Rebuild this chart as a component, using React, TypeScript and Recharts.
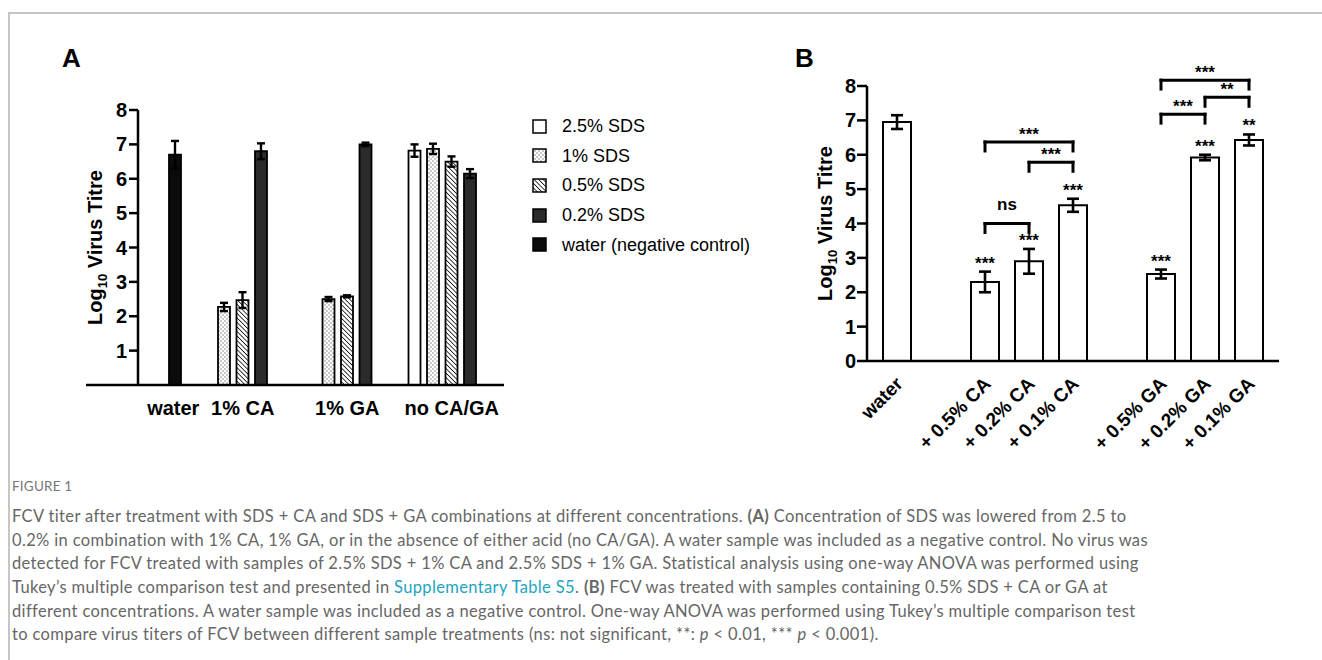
import React from "react";
import {
  BarChart,
  ComposedChart,
  Bar,
  Line,
  XAxis,
  YAxis,
  ErrorBar,
  Legend,
  LabelList,
  ReferenceLine,
} from "recharts";

// ---------- Panel A data ----------
const groupsA = ["water", "1% CA", "1% GA", "no CA/GA"];
const sds25 = [null, null, null, 6.82];
const sds25Err = [null, null, null, 0.18];
const sds1 = [null, 2.27, 2.5, 6.87];
const sds1Err = [null, 0.12, 0.06, 0.15];
const sds05 = [null, 2.47, 2.58, 6.5];
const sds05Err = [null, 0.23, 0.03, 0.15];
const sds02 = [null, 6.8, 7.0, 6.15];
const sds02Err = [null, 0.23, 0.05, 0.13];
const waterA = [6.7, null, null, null];
const waterAErr = [0.4, null, null, null];
const ticksA = [1, 2, 3, 4, 5, 6, 7, 8];
const seriesNamesA = ["2.5% SDS", "1% SDS", "0.5% SDS", "0.2% SDS", "water (negative control)"];

// ---------- Panel B data ----------
const catsB = ["water", " ", "+ 0.5% CA", "+ 0.2% CA", "+ 0.1% CA", "  ", "+ 0.5% GA", "+ 0.2% GA", "+ 0.1% GA"];
const meansB = [6.95, null, 2.3, 2.9, 4.53, null, 2.53, 5.92, 6.43];
const errsB = [0.2, null, 0.3, 0.36, 0.19, null, 0.13, 0.08, 0.16];
const sigB = [null, null, "***", "***", "***", null, "***", "***", "**"];
const ticksB = [0, 1, 2, 3, 4, 5, 6, 7, 8];
const bracketFrom = ["+ 0.5% CA", "+ 0.2% CA", "+ 0.5% CA", "+ 0.5% GA", "+ 0.2% GA", "+ 0.5% GA"];
const bracketTo = ["+ 0.2% CA", "+ 0.1% CA", "+ 0.1% CA", "+ 0.2% GA", "+ 0.1% GA", "+ 0.1% GA"];
const bracketY = [4.0, 5.78, 6.37, 7.18, 7.67, 8.17];
const bracketLabel = ["ns", "***", "***", "***", "**", "***"];

const dataA = groupsA.map((g, i) => ({
  group: g,
  sds25: sds25[i],
  sds25Err: sds25Err[i],
  sds1: sds1[i],
  sds1Err: sds1Err[i],
  sds05: sds05[i],
  sds05Err: sds05Err[i],
  sds02: sds02[i],
  sds02Err: sds02Err[i],
  water: waterA[i],
  waterErr: waterAErr[i],
}));

const dataB = catsB.map((c, i) => ({
  cat: c,
  mean: meansB[i],
  err: errsB[i],
  sig: sigB[i] === null ? undefined : sigB[i],
  sigY: meansB[i] !== null && sigB[i] !== null ? (meansB[i] as number) + (errsB[i] as number) : null,
}));

const seriesA = [
  { key: "sds25", fill: "#ffffff" },
  { key: "sds1", fill: "url(#dotsPat)" },
  { key: "sds05", fill: "url(#hatchPat)" },
  { key: "sds02", fill: "#2b2b2b" },
  { key: "water", fill: "#0b0b0b" },
];

const FONT = "'Liberation Sans', Arial, Helvetica, sans-serif";

const TickA = (props: any) => {
  const { x, y, payload } = props;
  const shift = payload.value === "water" ? 35 : 0;
  return (
    <text x={x + shift} y={y + 30} textAnchor="middle" fontWeight="bold" fontSize={20} fill="#000">
      {payload.value}
    </text>
  );
};

const TickY = (props: any) => {
  const { x, y, payload } = props;
  return (
    <text x={x} y={y + 7} textAnchor="end" fontWeight="bold" fontSize={20} fill="#000">
      {payload.value}
    </text>
  );
};

const TickB = (props: any) => {
  const { x, y, payload } = props;
  const v = String(payload.value).trim();
  if (!v) return null;
  const ax = x + 7;
  const ay = y + 24;
  return (
    <text
      x={ax}
      y={ay}
      textAnchor="end"
      transform={`rotate(-45 ${ax} ${ay})`}
      fontWeight="bold"
      fontSize={19}
      fill="#000"
    >
      {v}
    </text>
  );
};

const yTitle = (fromRight: number) => (props: any) => {
  const vb = props.viewBox || {};
  const cx = vb.x + vb.width - fromRight;
  const cy = vb.y + vb.height / 2;
  return (
    <g transform={`translate(${cx},${cy}) rotate(-90)`}>
      <text x={0} y={7} textAnchor="middle" fontWeight="bold" fontSize={20} fill="#000">
        Log
        <tspan fontSize={13} dy={5}>10</tspan>
        <tspan dy={-5}> Virus Titre</tspan>
      </text>
    </g>
  );
};

const LegendA = () => (
  <div style={{ fontFamily: FONT }}>
    {seriesA.map((s, i) => (
      <div key={s.key} style={{ display: "flex", alignItems: "center", height: 29.6 }}>
        <svg width={16} height={16} style={{ display: "block" }}>
          <rect x={1} y={1} width={13} height={13} fill={s.fill} stroke="#000" strokeWidth={1.5} />
        </svg>
        <span style={{ marginLeft: 14, fontSize: 18, color: "#000", whiteSpace: "nowrap" }}>{seriesNamesA[i]}</span>
      </div>
    ))}
  </div>
);

const axisStroke = { stroke: "#000", strokeWidth: 2.5 };

export default function App() {
  const capText: React.CSSProperties = {
    whiteSpace: "nowrap",
    height: 23.7,
    lineHeight: "23.7px",
  };
  return (
    <div
      style={{
        position: "absolute",
        left: 0,
        top: 0,
        width: 1322,
        height: 660,
        background: "#fff",
        overflow: "hidden",
        fontFamily: FONT,
      }}
    >
      <svg width={0} height={0} style={{ position: "absolute" }}>
        <defs>
          <pattern id="dotsPat" patternUnits="userSpaceOnUse" width={4} height={4}>
            <rect width={4} height={4} fill="#fff" />
            <circle cx={1} cy={1} r={0.7} fill="#666" />
            <circle cx={3} cy={3} r={0.7} fill="#666" />
          </pattern>
          <pattern id="hatchPat" patternUnits="userSpaceOnUse" width={3.2} height={3.2} patternTransform="rotate(-45)">
            <rect width={3.2} height={3.2} fill="#fff" />
            <line x1={0} y1={0} x2={0} y2={3.2} stroke="#000" strokeWidth={1.5} />
          </pattern>
        </defs>
      </svg>

      {/* frame */}
      <div
        style={{
          position: "absolute",
          left: 8,
          top: 12,
          width: 1320,
          height: 660,
          borderTop: "2px solid #c6c6c6",
          borderLeft: "2px solid #c6c6c6",
        }}
      />

      <div style={{ position: "absolute", left: 62, top: 45, fontSize: 26, lineHeight: "26px", fontWeight: "bold" }}>A</div>
      <div style={{ position: "absolute", left: 795, top: 45, fontSize: 26, lineHeight: "26px", fontWeight: "bold" }}>B</div>

      {/* Panel A bars */}
      <div style={{ position: "absolute", left: 0, top: 0 }}>
        <BarChart
          width={800}
          height={440}
          data={dataA}
          margin={{ top: 110, right: 296, bottom: 25, left: 86 }}
          barSize={12}
          barGap={6.5}
        >
          <XAxis
            dataKey="group"
            height={30}
            tick={<TickA />}
            tickLine={false}
            tickSize={0}
            tickMargin={0}
            interval={0}
            axisLine={axisStroke}
          />
          <YAxis hide domain={[0, 8]} ticks={ticksA} />
          <Legend
            layout="vertical"
            align="center"
            verticalAlign="middle"
            content={() => <LegendA />}
            wrapperStyle={{ left: 532, top: 112, width: 270 }}
          />
          {seriesA.map((s, i) => (
            <Bar
              key={s.key}
              dataKey={s.key}
              name={seriesNamesA[i]}
              fill={s.fill}
              stroke="#000"
              strokeWidth={1.8}
              isAnimationActive={false}
            >
              <ErrorBar dataKey={`${s.key}Err`} width={4} stroke="#000" strokeWidth={2.4} direction="y" />
            </Bar>
          ))}
        </BarChart>
      </div>

      {/* Panel A y-axis */}
      <div style={{ position: "absolute", left: 0, top: 0, pointerEvents: "none" }}>
        <BarChart width={800} height={440} data={dataA} margin={{ top: 110, right: 296, bottom: 55, left: 0 }}>
          <XAxis dataKey="group" hide />
          <YAxis
            width={138}
            domain={[0, 8]}
            ticks={ticksA}
            interval={0}
            tickSize={9}
            tickMargin={2}
            axisLine={axisStroke}
            tickLine={axisStroke}
            tick={<TickY />}
            label={yTitle(43)}
          />
          <Bar dataKey="water" fill="none" stroke="none" legendType="none" isAnimationActive={false} />
        </BarChart>
      </div>

      {/* Panel B */}
      <div style={{ position: "absolute", left: 780, top: 0 }}>
        <ComposedChart
          width={540}
          height={470}
          data={dataB}
          margin={{ top: 86, right: 41, bottom: 79, left: 27 }}
          barSize={28}
        >
          <XAxis
            dataKey="cat"
            height={30}
            padding={{ left: 8, right: 8 }}
            tick={<TickB />}
            tickLine={false}
            tickSize={0}
            tickMargin={0}
            interval={0}
            axisLine={axisStroke}
          />
          <YAxis
            width={60}
            domain={[0, 8]}
            ticks={ticksB}
            interval={0}
            tickSize={10}
            tickMargin={1}
            axisLine={axisStroke}
            tickLine={axisStroke}
            tick={<TickY />}
            label={yTitle(42)}
          />
          <Bar dataKey="mean" fill="#fff" stroke="#000" strokeWidth={2} isAnimationActive={false}>
            <ErrorBar dataKey="err" width={6} stroke="#000" strokeWidth={2.6} direction="y" />
          </Bar>
          <Line
            dataKey="sigY"
            stroke="none"
            dot={false}
            activeDot={false}
            legendType="none"
            isAnimationActive={false}
          >
            <LabelList dataKey="sig" position="top" offset={3} fill="#000" fontSize={17} fontWeight="bold" />
          </Line>
          {bracketY.map((by, i) => {
            const drop = 0.26;
            return (
              <React.Fragment key={`br${i}`}>
                <ReferenceLine
                  segment={[
                    { x: bracketFrom[i], y: by },
                    { x: bracketTo[i], y: by },
                  ]}
                  stroke="#000"
                  strokeWidth={3}
                  strokeLinecap="square"
                  ifOverflow="visible"
                  label={{
                    value: bracketLabel[i],
                    position: "top",
                    offset: bracketLabel[i] === "ns" ? 14 : 2,
                    fill: "#000",
                    fontSize: 17,
                    fontWeight: "bold",
                  }}
                />
                <ReferenceLine
                  segment={[
                    { x: bracketFrom[i], y: by },
                    { x: bracketFrom[i], y: by - drop },
                  ]}
                  stroke="#000"
                  strokeWidth={3}
                  strokeLinecap="square"
                  ifOverflow="visible"
                />
                <ReferenceLine
                  segment={[
                    { x: bracketTo[i], y: by },
                    { x: bracketTo[i], y: by - drop },
                  ]}
                  stroke="#000"
                  strokeWidth={3}
                  strokeLinecap="square"
                  ifOverflow="visible"
                />
              </React.Fragment>
            );
          })}
        </ComposedChart>
      </div>

      {/* caption */}
      <div
        style={{
          position: "absolute",
          left: 12,
          top: 478,
          fontFamily: "Lato, 'Open Sans', sans-serif",
          fontSize: 13.5,
          color: "#777",
          letterSpacing: 0.2,
        }}
      >
        FIGURE 1
      </div>
      <div
        style={{
          position: "absolute",
          left: 12,
          top: 505,
          fontFamily: "Lato, 'Open Sans', sans-serif",
          fontSize: 16.5,
          letterSpacing: 0.36,
          color: "#666",
        }}
      >
        <div style={capText}>
          FCV titer after treatment with SDS + CA and SDS + GA combinations at different concentrations. <b>(A)</b> Concentration of SDS was lowered from 2.5 to
        </div>
        <div style={capText}>
          0.2% in combination with 1% CA, 1% GA, or in the absence of either acid (no CA/GA). A water sample was included as a negative control. No virus was
        </div>
        <div style={capText}>
          detected for FCV treated with samples of 2.5% SDS + 1% CA and 2.5% SDS + 1% GA. Statistical analysis using one-way ANOVA was performed using
        </div>
        <div style={capText}>
          Tukey’s multiple comparison test and presented in <span style={{ color: "#1ea4c0" }}>Supplementary Table S5</span>. <b>(B)</b> FCV was treated with samples containing 0.5% SDS + CA or GA at
        </div>
        <div style={capText}>
          different concentrations. A water sample was included as a negative control. One-way ANOVA was performed using Tukey’s multiple comparison test
        </div>
        <div style={capText}>
          to compare virus titers of FCV between different sample treatments (ns: not significant, **: <i>p</i> &lt; 0.01, *** <i>p</i> &lt; 0.001).
        </div>
      </div>
    </div>
  );
}
